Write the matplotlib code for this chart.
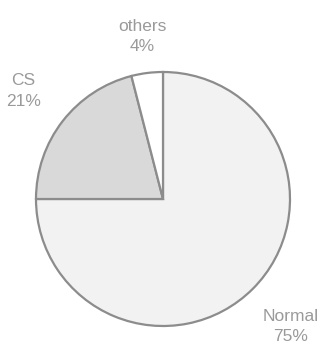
import numpy as np
import matplotlib.pyplot as plt

labels = ["Normal", "CS", "others"]
shares = [75, 21, 4]
colors = ["#f2f2f2", "#d9d9d9", "#ffffff"]
label_dist = [1.42, 1.39, 1.29]

fig = plt.figure(figsize=(3.31, 3.48), dpi=100)
ax = fig.add_axes([0, 0, 1, 1])

wedges, _ = ax.pie(shares, colors=colors, startangle=90, counterclock=False,
                   wedgeprops=dict(edgecolor="#8c8c8c", linewidth=1.6))

for w, lab, val, d in zip(wedges, labels, shares, label_dist):
    mid = np.deg2rad((w.theta1 + w.theta2) / 2)
    ax.text(d * np.cos(mid), d * np.sin(mid), f"{lab}\n{val}%",
            ha="center", va="center", fontsize=12.5, color="#9a9a9a",
            family="Liberation Sans", linespacing=1.45)

ax.set_xlim(-163 / 127, 168 / 127)
ax.set_ylim(-149 / 127, 199 / 127)
ax.set_aspect("equal")
ax.axis("off")

fig.savefig("out.png", dpi=100)
